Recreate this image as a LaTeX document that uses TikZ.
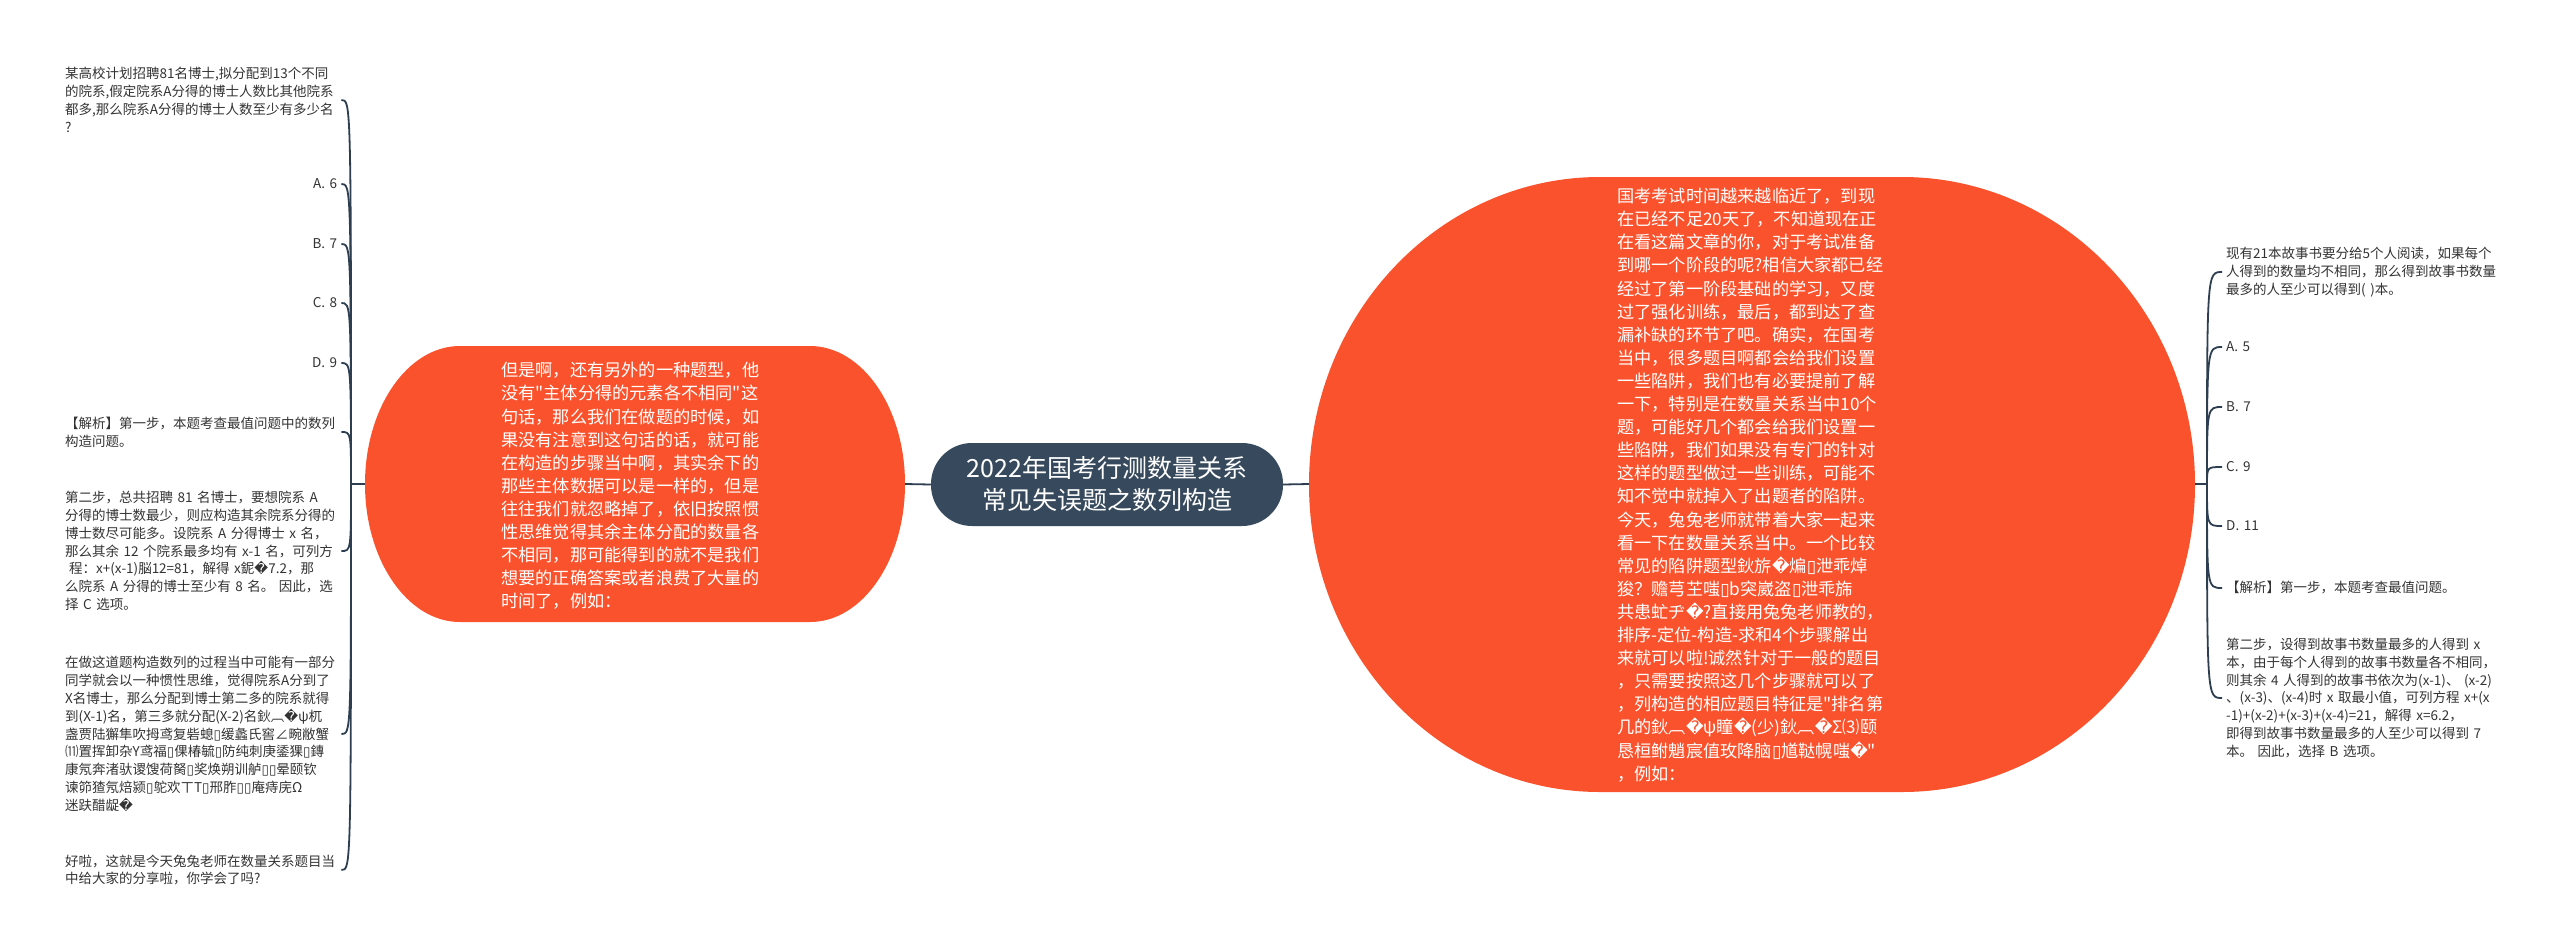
\documentclass[tikz,border=0pt]{standalone}
\usepackage{fontspec}
\newfontfamily\cjk{Noto Sans CJK SC}
\newfontfamily\djv{DejaVu Sans}
\newcommand{\mjR}{{\djv\symbol{"FFFD}}}
\newcommand{\mjB}{{\djv\symbol{"25AF}}}
\definecolor{bub}{RGB}{250,82,44}
\definecolor{ctr}{RGB}{55,73,92}
\definecolor{lnk}{RGB}{44,62,80}
\definecolor{txt}{RGB}{51,51,51}
\tikzset{
  leafL/.style={anchor=west, text width=272pt, align=left, inner sep=4pt,
    font=\cjk\fontsize{13.5}{17.8}\selectfont, text=txt},
  optL/.style={leafL, align=right},
  leafR/.style={anchor=west, text width=310pt, align=left, inner sep=4pt,
    font=\cjk\fontsize{13.5}{17.8}\selectfont, text=txt},
  btxt/.style={anchor=west, text width=290pt, align=left, inner sep=4pt,
    font=\cjk\fontsize{17.2}{23.1}\selectfont, text=white},
  ctrnode/.style={fill=ctr, text=white, rounded corners=41pt, minimum width=352pt,
    minimum height=83pt, align=center, inner sep=0pt,
    font=\cjk\fontsize{25}{32}\selectfont},
  link/.style={draw=lnk, line width=1.8pt},
}
\begin{document}
\begin{tikzpicture}[x=1pt,y=-1pt]
\path[use as bounding box, fill=white] (0,0) rectangle (2560,951);

% left bubble
\fill[bub] (460,346) -- (810,346) arc[start angle=-90,end angle=90,x radius=95,y radius=138]
  -- (460,622) arc[start angle=90,end angle=270,x radius=95,y radius=138] -- cycle;
\coordinate (lbL) at (365,484);
\coordinate (lbR) at (905,484);
\node[btxt] (lbt) at (497,486) {但是啊，还有另外的一种题型，他\\
没有"主体分得的元素各不相同"这\\
句话，那么我们在做题的时候，如\\
果没有注意到这句话的话，就可能\\
在构造的步骤当中啊，其实余下的\\
那些主体数据可以是一样的，但是\\
往往我们就忽略掉了，依旧按照惯\\
性思维觉得其余主体分配的数量各\\
不相同，那可能得到的就不是我们\\
想要的正确答案或者浪费了大量的\\
时间了，例如：};

% right bubble
\fill[bub] (1600,177) -- (1902,177) arc[start angle=-90,end angle=90,x radius=293,y radius=307.5]
  -- (1600,792) arc[start angle=90,end angle=270,x radius=291,y radius=307.5] -- cycle;
\coordinate (rbL) at (1309,484);
\coordinate (rbR) at (2195,484);
\node[btxt] (rbt) at (1613,485) {国考考试时间越来越临近了，到现\\
在已经不足20天了，不知道现在正\\
在看这篇文章的你，对于考试准备\\
到哪一个阶段的呢?相信大家都已经\\
经过了第一阶段基础的学习，又度\\
过了强化训练，最后，都到达了查\\
漏补缺的环节了吧。确实，在国考\\
当中，很多题目啊都会给我们设置\\
一些陷阱，我们也有必要提前了解\\
一下，特别是在数量关系当中10个\\
题，可能好几个都会给我们设置一\\
些陷阱，我们如果没有专门的针对\\
这样的题型做过一些训练，可能不\\
知不觉中就掉入了出题者的陷阱。\\
今天，兔兔老师就带着大家一起来\\
看一下在数量关系当中。一个比较\\
常见的陷阱题型鈥旂\mjR 煸\mjB 泄乖焯\\
狻？赡芎芏嗤\mjB b突崴盗\mjB 泄乖旆\\
共患虻ヂ\mjR ?直接用兔兔老师教的，\\
排序-定位-构造-求和4个步骤解出\\
来就可以啦!诚然针对于一般的题目\\
，只需要按照这几个步骤就可以了\\
，列构造的相应题目特征是"排名第\\
几的鈥︹\mjR ψ瞳\mjR (少)鈥︹\mjR Σ⑶颐\\
恳桓鲋魈宸值玫降脑\mjB 馗鞑幌嗤\mjR "\\
，例如：};

% centre
\node[ctrnode] (c) at (1107,484.5) {2022年国考行测数量关系\\常见失误题之数列构造};

% main links
\draw[link] (lbR) -- (c.west);
\draw[link] (c.east) -- (rbL);
\coordinate (JL) at (351,484);
\coordinate (JR) at (2207,484);
\draw[link] (lbL) -- (JL);
\draw[link] (rbR) -- (JR);

% left leaves
\node[leafL] (q1) at (61,100) {某高校计划招聘81名博士,拟分配到13个不同\\
的院系,假定院系A分得的博士人数比其他院系\\
都多,那么院系A分得的博士人数至少有多少名\\
?};
\node[optL] (a1) at (61,184) {A. 6};
\node[optL] (b1) at (61,244) {B. 7};
\node[optL] (c1) at (61,303) {C. 8};
\node[optL] (d1) at (61,363) {D. 9};
\node[leafL] (j1) at (61,432) {【解析】第一步，本题考查最值问题中的数列\\构造问题。};
\node[leafL] (s1) at (61,551) {第二步，总共招聘 81 名博士，要想院系 A\\
分得的博士数最少，则应构造其余院系分得的\\
博士数尽可能多。设院系 A 分得博士 x 名，\\
那么其余 12 个院系最多均有 x-1 名，可列方\\
\hspace*{4pt}程：x+(x-1)脳12=81，解得 x鈮\mjR 7.2，那\\
么院系 A 分得的博士至少有 8 名。 因此，选\\
择 C 选项。};
\node[leafL] (p1) at (61,734) {在做这道题构造数列的过程当中可能有一部分\\
同学就会以一种惯性思维，觉得院系A分到了\\
X名博士，那么分配到博士第二多的院系就得\\
到(X-1)名，第三多就分配(X-2)名鈥︹\mjR ψ杌\\
盏贾陆獬隼吹拇鸢复砦螅\mjB 缓蠡氏窖∠畹敝蟹\\
⑾置挥卸杂Y鸢福\mjB 倮椿毓\mjB 防纯刺庚鋈猓\mjB 鏄\\
康氖奔渚驮谡馊荷胬\mjB 奖焕朔训舻\mjB\mjB 晕颐钦\\
谏笷猹氖焙颍\mjB 鸵欢ㄒT\mjB 邢胙\mjB\mjB 庵痔庑Ω\\
迷趺醋龊\mjR};
\node[leafL] (h1) at (61,870) {好啦，这就是今天兔兔老师在数量关系题目当\\中给大家的分享啦，你学会了吗?};
\foreach \n in {q1,a1,b1,c1,d1,j1,s1,p1,h1}
  \draw[link] (JL) .. controls (JL |- \n.east) and (JL |- \n.east) .. (\n.east);

% right leaves
\node[leafR] (q2) at (2222,272) {现有21本故事书要分给5个人阅读，如果每个\\
人得到的数量均不相同，那么得到故事书数量\\
最多的人至少可以得到( )本。};
\node[leafR] (a2) at (2222,347) {A. 5};
\node[leafR] (b2) at (2222,407) {B. 7};
\node[leafR] (c2) at (2222,467) {C. 9};
\node[leafR] (d2) at (2222,526) {D. 11};
\node[leafR] (j2) at (2222,588) {【解析】第一步，本题考查最值问题。};
\node[leafR] (s2) at (2222,698) {第二步，设得到故事书数量最多的人得到 x\\
本，由于每个人得到的故事书数量各不相同，\\
则其余 4 人得到的故事书依次为(x-1)、 (x-2)\\
、(x-3)、(x-4)时 x 取最小值，可列方程 x+(x\\
-1)+(x-2)+(x-3)+(x-4)=21，解得 x=6.2，\\
即得到故事书数量最多的人至少可以得到 7\\
本。 因此，选择 B 选项。};
\foreach \n in {q2,a2,b2,c2,d2,j2,s2}
  \draw[link] (JR) .. controls (JR |- \n.west) and (JR |- \n.west) .. (\n.west);
\end{tikzpicture}
\end{document}
